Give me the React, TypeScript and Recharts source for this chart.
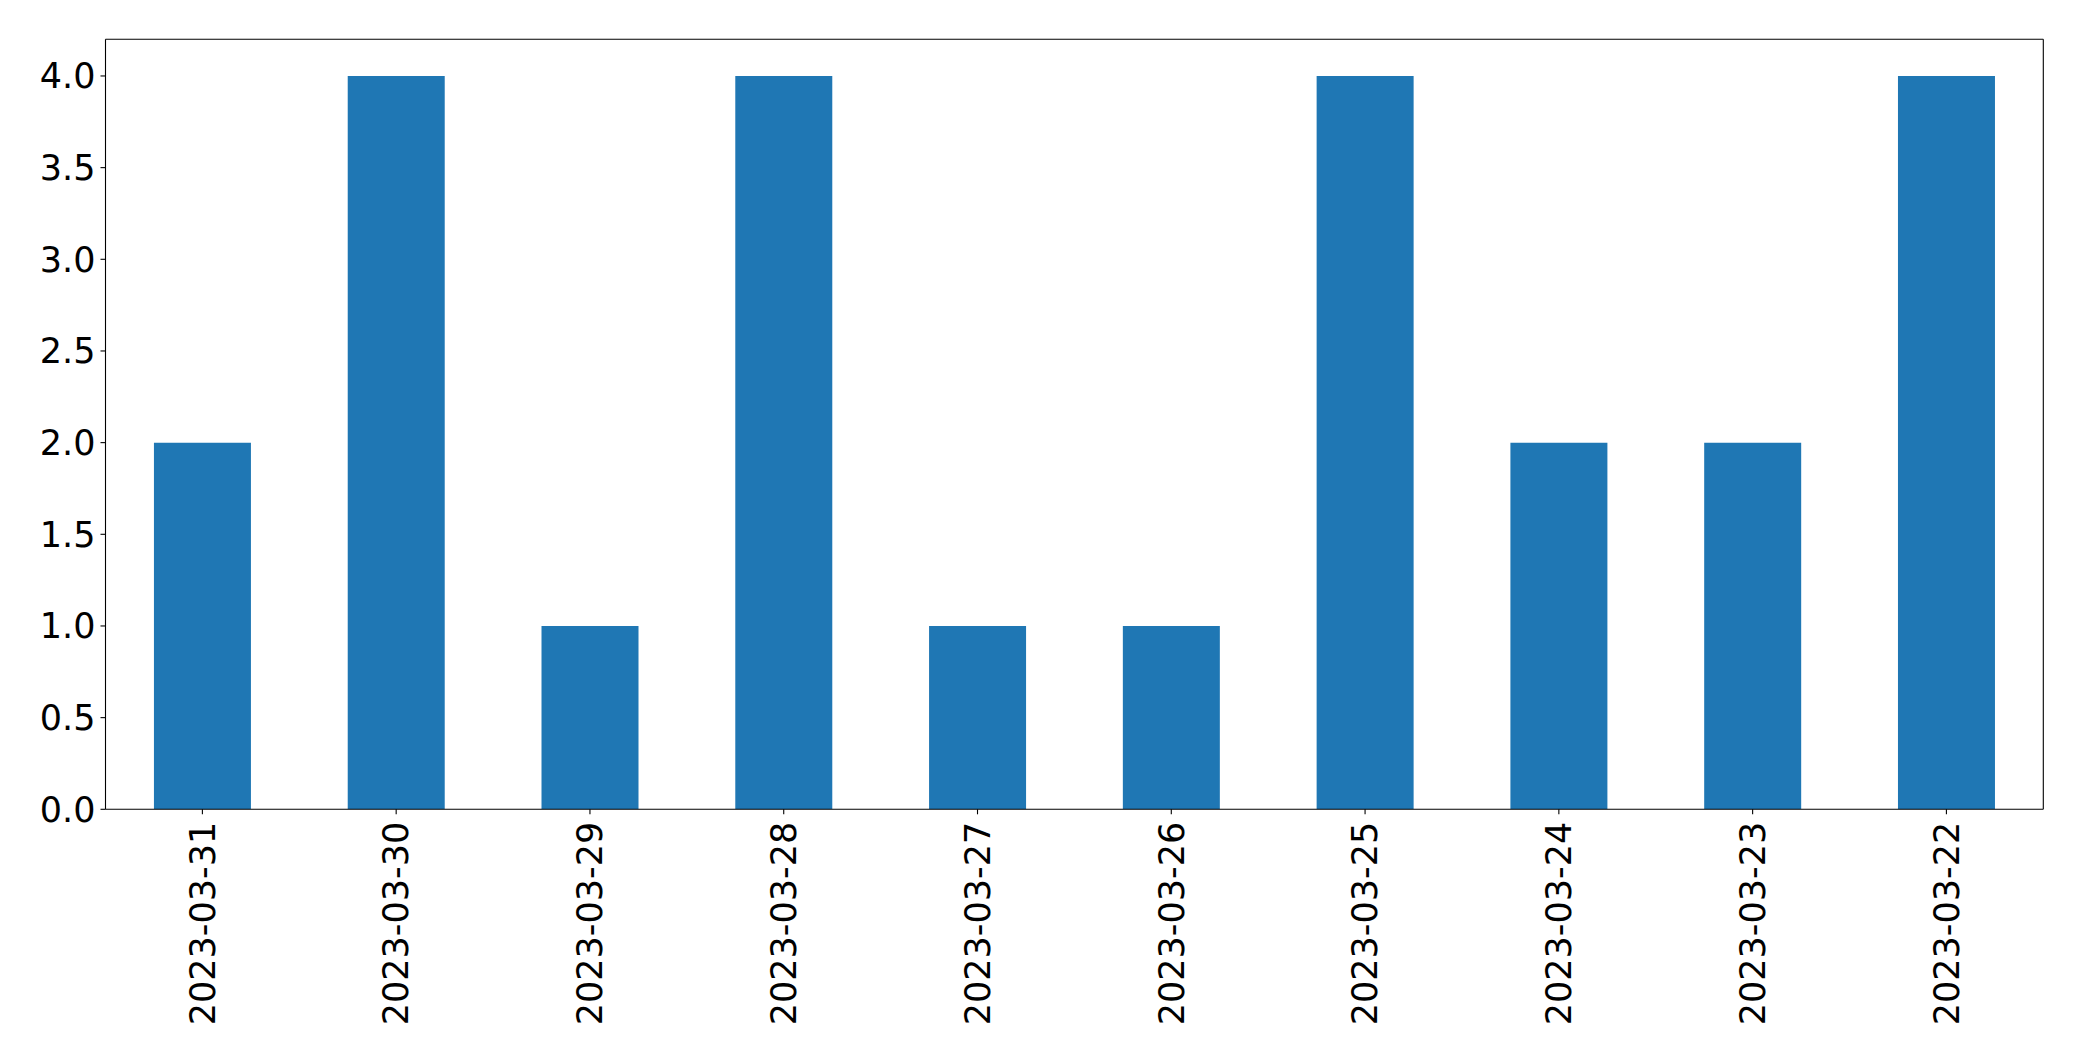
import React from 'react';
import { BarChart, Bar, XAxis, YAxis } from 'recharts';

const dates = ['2023-03-31', '2023-03-30', '2023-03-29', '2023-03-28', '2023-03-27', '2023-03-26', '2023-03-25', '2023-03-24', '2023-03-23', '2023-03-22'];
const counts = [2, 4, 1, 4, 1, 1, 4, 2, 2, 4];
const yTicks = [0, 0.5, 1, 1.5, 2, 2.5, 3, 3.5, 4];

const data = dates.map((d, i) => ({ date: d, count: counts[i] }));

const FONT = 'DejaVu Sans';
const FS = 35;

const XTick = (props: any) => {
  const { x, y, payload } = props;
  return (
    <text
      transform={`translate(${x},${y}) rotate(-90)`}
      textAnchor="end"
      dy="0.35em"
      fontFamily={FONT}
      fontSize={FS}
      fill="#000"
    >
      {payload.value}
    </text>
  );
};

export default function App() {
  return (
    <div style={{ position: 'absolute', left: 0, top: 0, width: 2082, height: 1061, background: '#fff' }}>
      <BarChart
        width={2082}
        height={1061}
        data={data}
        margin={{ top: 38.3, right: 37.7, left: 0, bottom: 0 }}
        barCategoryGap="25%"
      >
        <XAxis
          dataKey="date"
          interval={0}
          height={251.7}
          tick={<XTick />}
          tickSize={5}
          tickMargin={7.5}
          axisLine={{ stroke: '#000', strokeWidth: 1.1 }}
          tickLine={{ stroke: '#000', strokeWidth: 1.1 }}
        />
        <XAxis
          xAxisId="top"
          dataKey="date"
          orientation="top"
          height={1}
          tick={false}
          tickLine={false}
          axisLine={{ stroke: '#000', strokeWidth: 1.1 }}
        />
        <YAxis
          domain={[0, 4.2]}
          ticks={yTicks}
          allowDataOverflow
          width={105.5}
          tickFormatter={(v: number) => v.toFixed(1)}
          tick={{ fontFamily: FONT, fontSize: FS, fill: '#000' }}
          tickSize={5}
          tickMargin={5}
          axisLine={{ stroke: '#000', strokeWidth: 1.1 }}
          tickLine={{ stroke: '#000', strokeWidth: 1.1 }}
        />
        <YAxis
          yAxisId="right"
          orientation="right"
          domain={[0, 4.2]}
          width={1}
          tick={false}
          tickLine={false}
          axisLine={{ stroke: '#000', strokeWidth: 1.1 }}
        />
        <Bar dataKey="count" fill="#1f77b4" isAnimationActive={false} />
      </BarChart>
    </div>
  );
}
